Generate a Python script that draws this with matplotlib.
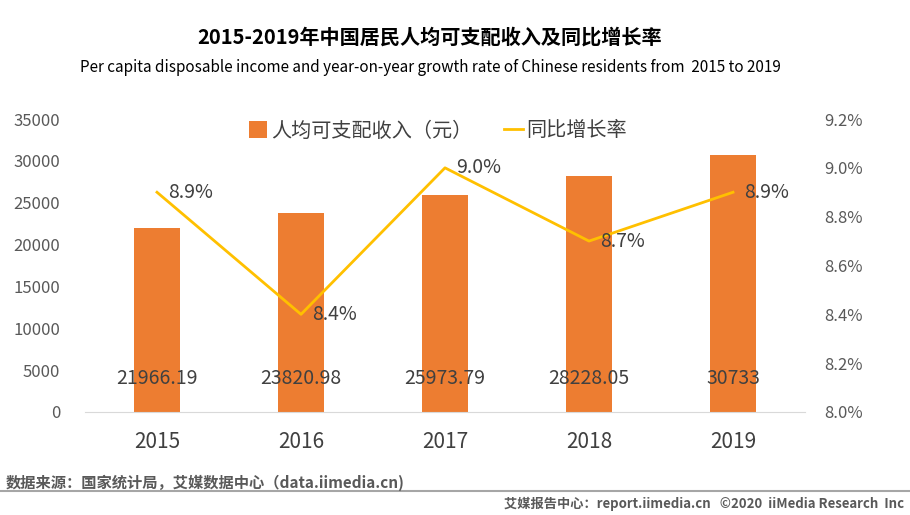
import numpy as np
import matplotlib.pyplot as plt

plt.rcParams['font.family'] = ['Noto Sans CJK SC', 'DejaVu Sans']

years = ['2015', '2016', '2017', '2018', '2019']
income = [21966.19, 23820.98, 25973.79, 28228.05, 30733]
income_labels = ['21966.19', '23820.98', '25973.79', '28228.05', '30733']
growth = [8.9, 8.4, 9.0, 8.7, 8.9]
left_ticks = [0, 5000, 10000, 15000, 20000, 25000, 30000, 35000]
right_ticks = [8.0, 8.2, 8.4, 8.6, 8.8, 9.0, 9.2]

fig = plt.figure(figsize=(9.1, 5.15), dpi=100)
ax = fig.add_axes([85/910, 1-412/515, 720/910, 293/515])
x = np.arange(len(years))

bars = ax.bar(x, income, width=0.32, color='#ED7D31', label='人均可支配收入（元）', zorder=2)
ax.set_xlim(-0.5, 4.5)
ax.set_ylim(0, 35000)
ax.set_yticks(left_ticks)
ax.set_yticklabels([str(t) for t in left_ticks])
ax.set_xticks(x)
ax.set_xticklabels(years, fontsize=15, color='#404040')
ax.tick_params(axis='x', length=0, pad=14)
ax.tick_params(axis='y', length=0, labelsize=12, labelcolor='#595959', pad=18)
for s in ['top', 'right', 'left']:
    ax.spines[s].set_visible(False)
ax.spines['bottom'].set_color('#D9D9D9')

for xi, lab in zip(x, income_labels):
    ax.text(xi, 4000, lab, ha='center', va='center', fontsize=14, color='#404040')

ax2 = ax.twinx()
line, = ax2.plot(x, growth, color='#FFC000', linewidth=2, label='同比增长率', zorder=3)
ax2.set_ylim(8.0, 9.2)
ax2.set_yticks(right_ticks)
ax2.set_yticklabels(['%.1f%%' % t for t in right_ticks])
ax2.tick_params(axis='y', length=0, labelsize=12, labelcolor='#595959', pad=14)
for s in ['top', 'right', 'left', 'bottom']:
    ax2.spines[s].set_visible(False)

for xi, g in zip(x, growth):
    ax2.text(xi + 0.08, g, '%.1f%%' % g, ha='left', va='center', fontsize=14, color='#404040')

fig.legend(handles=[bars, line], loc='center', bbox_to_anchor=(438/910, 1-131/515),
           ncol=2, frameon=False, fontsize=14.5, labelcolor='#404040',
           handlelength=0.9, handleheight=0.9, columnspacing=1.6, handletextpad=0.2)

fig.text(430/910, 1-37/515, '2015-2019年中国居民人均可支配收入及同比增长率', ha='center', va='center',
         fontsize=14.5, fontweight='bold', color='#000000')
fig.text(430/910, 1-68/515, 'Per capita disposable income and year-on-year growth rate of Chinese residents from  2015 to 2019',
         ha='center', va='center', fontsize=11, color='#000000')

fig.text(6/910, 1-483/515, '数据来源：国家统计局，艾媒数据中心（data.iimedia.cn)', ha='left', va='center',
         fontsize=11, fontweight='bold', color='#595959')
fig.add_artist(plt.Line2D([0, 1], [1-491/515, 1-491/515], color='#A6A6A6', linewidth=1.5))
fig.text(904/910, 1-504/515, '艾媒报告中心：report.iimedia.cn   ©2020  iiMedia Research  Inc', ha='right', va='center',
         fontsize=9.5, fontweight='bold', color='#595959')

fig.savefig('out.png', dpi=100)
